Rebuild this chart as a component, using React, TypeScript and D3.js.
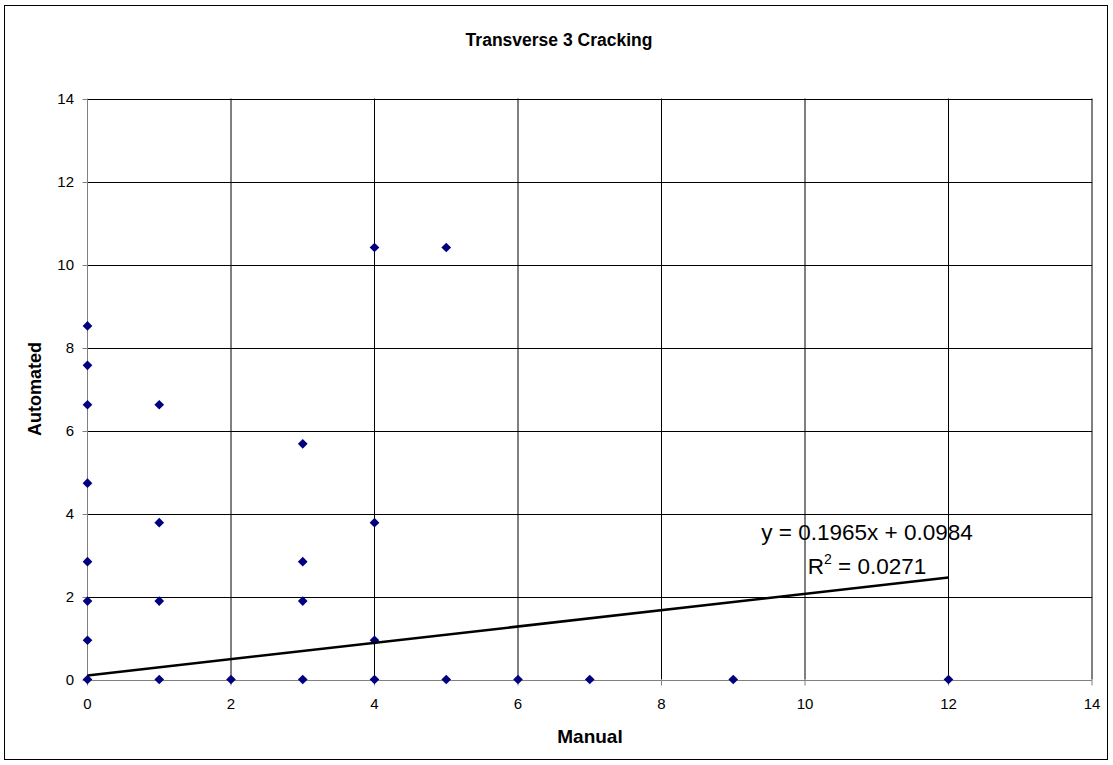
import React from "react";
import * as d3 from "d3";

const manual: number[] = [
  0, 0, 0, 0, 0, 0, 0, 0,
  1, 1, 1, 1,
  2,
  3, 3, 3, 3,
  4, 4, 4, 4,
  5, 5,
  6, 7, 9, 12,
];
const automated: number[] = [
  8.52, 7.57, 6.62, 4.73, 2.84, 1.89, 0.946, 0,
  6.62, 3.78, 1.89, 0,
  0,
  5.68, 2.84, 1.89, 0,
  10.41, 3.78, 0.946, 0,
  10.41, 0,
  0, 0, 0, 0,
];
const xTicks: number[] = [0, 2, 4, 6, 8, 10, 12, 14];
const yTicks: number[] = [0, 2, 4, 6, 8, 10, 12, 14];
const trendSlope = 0.1965;
const trendIntercept = 0.0984;
const trendRange: number[] = [0, 12];
const titleText = "Transverse 3 Cracking";
const xLabel = "Manual";
const yLabel = "Automated";
const eqText = "y = 0.1965x + 0.0984";
const r2Value = "0.0271";

export default function App() {
  const W = 1113;
  const H = 765;
  const left = 87.5;
  const right = 1092;
  const top = 98.5;
  const bottom = 679.5;
  const x = d3.scaleLinear().domain([0, 14]).range([left, right]);
  const y = d3.scaleLinear().domain([0, 14]).range([bottom, top]);
  const font = "Arial, 'Liberation Sans', sans-serif";
  const diamond = d3.symbol().type(d3.symbolDiamond2).size(60);
  const trend = d3
    .line<number>()
    .x((d) => x(d))
    .y((d) => y(trendSlope * d + trendIntercept));

  return (
    <div style={{ position: "absolute", left: 0, top: 0 }}>
      <svg width={W} height={H} style={{ display: "block", background: "#fff" }}>
        <rect x={4.5} y={5.5} width={1103} height={754} fill="#fff" stroke="#000" strokeWidth={1} />
        <text x={559} y={46} textAnchor="middle" fontFamily={font} fontWeight="bold" fontSize={17.5}>
          {titleText}
        </text>
        {/* grid */}
        {yTicks.map((t) => (
          <line key={"hy" + t} x1={left} x2={right} y1={Math.round(y(t)) + 0.5} y2={Math.round(y(t)) + 0.5}
            stroke={t === 0 ? "#808080" : "#000"} strokeWidth={1} />
        ))}
        {xTicks.map((t) => (
          <line key={"vx" + t} x1={x(t)} x2={x(t)} y1={top} y2={bottom}
            stroke={t === 0 ? "#808080" : "#000"} strokeWidth={1} />
        ))}
        {/* tick marks */}
        {yTicks.map((t) => (
          <line key={"ty" + t} x1={left - 5} x2={left} y1={Math.round(y(t)) + 0.5} y2={Math.round(y(t)) + 0.5}
            stroke="#808080" strokeWidth={1} />
        ))}
        {xTicks.map((t) => (
          <line key={"tx" + t} x1={x(t)} x2={x(t)} y1={bottom} y2={bottom + 6}
            stroke="#808080" strokeWidth={1} />
        ))}
        {/* tick labels */}
        {yTicks.map((t) => (
          <text key={"ly" + t} x={74} y={y(t) + 5.5} textAnchor="end" fontFamily={font} fontSize={15}>
            {t}
          </text>
        ))}
        {xTicks.map((t) => (
          <text key={"lx" + t} x={x(t)} y={709} textAnchor="middle" fontFamily={font} fontSize={15}>
            {t}
          </text>
        ))}
        {/* axis titles */}
        <text x={590} y={743} textAnchor="middle" fontFamily={font} fontWeight="bold" fontSize={19}>
          {xLabel}
        </text>
        <text transform={`translate(41,${(top + bottom) / 2}) rotate(-90)`} textAnchor="middle"
          fontFamily={font} fontWeight="bold" fontSize={18}>
          {yLabel}
        </text>
        {/* points */}
        {manual.map((m, i) => (
          <path key={"p" + i} d={diamond() as string} transform={`translate(${x(m)},${y(automated[i])})`}
            fill="#000080" />
        ))}
        {/* trendline */}
        <path d={trend(trendRange) as string} fill="none" stroke="#000" strokeWidth={2.5} />
        <text x={867} y={540} textAnchor="middle" fontFamily={font} fontSize={22.5}>
          {eqText}
        </text>
        <text x={867} y={574} textAnchor="middle" fontFamily={font} fontSize={22.5}>
          R<tspan dy={-10} fontSize={14}>2</tspan><tspan dy={10}> = {r2Value}</tspan>
        </text>
      </svg>
    </div>
  );
}
